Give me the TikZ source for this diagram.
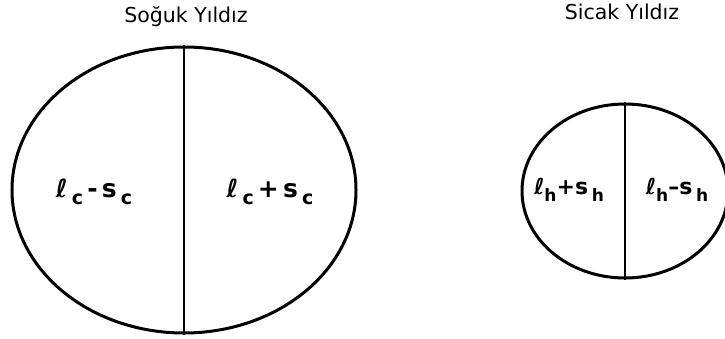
\documentclass[tikz,border=0pt]{standalone}
\usepackage{fontspec}
\setmainfont{DejaVu Sans}
\usetikzlibrary{shapes.geometric}
\newcommand{\lsub}[1]{\raisebox{-0.3em}{\fontsize{19}{19}\selectfont #1}}
\newcommand{\hsub}[1]{\raisebox{-0.3em}{\fontsize{17}{17}\selectfont #1}}
\newcommand{\ellg}{{\itshape ℓ}}
\begin{document}
\begin{tikzpicture}[x=1pt,y=-1pt,
  star/.style={ellipse, draw, line width=3pt, inner sep=0pt},
  divider/.style={line width=2pt},
  title/.style={font=\fontsize{20.5}{20.5}\selectfont, inner sep=0pt},
  lab/.style={font=\fontsize{25}{25}\selectfont\bfseries, inner sep=0pt},
  hlab/.style={font=\fontsize{22}{22}\selectfont\bfseries, inner sep=0pt}]
\useasboundingbox (0,0) rectangle (725,339);
\node[star, minimum width=344pt, minimum height=286pt] (cold) at (184,190) {};
\node[star, minimum width=206pt, minimum height=174pt] (hot) at (625,191) {};
\draw[divider] (cold.north) -- (cold.south);
\draw[divider] (hot.north) -- (hot.south);
\node[title] (tc) at (186,17) {Soğuk Yıldız};
\node[title] (th) at (622,12) {Sicak Yıldız};
\node[lab] (l1) at (94,192) {\ellg\,\lsub{c}\,-\,s\,\lsub{c}};
\node[lab] (l2) at (270,192) {\ellg\,\lsub{c}\,+\,s\,\lsub{c}};
\node[hlab] (l3) at (569,190) {\ellg\hsub{h}+s\,\hsub{h}};
\node[hlab] (l4) at (677,190) {\ellg\hsub{h}\textendash s\,\hsub{h}};
\end{tikzpicture}
\end{document}
